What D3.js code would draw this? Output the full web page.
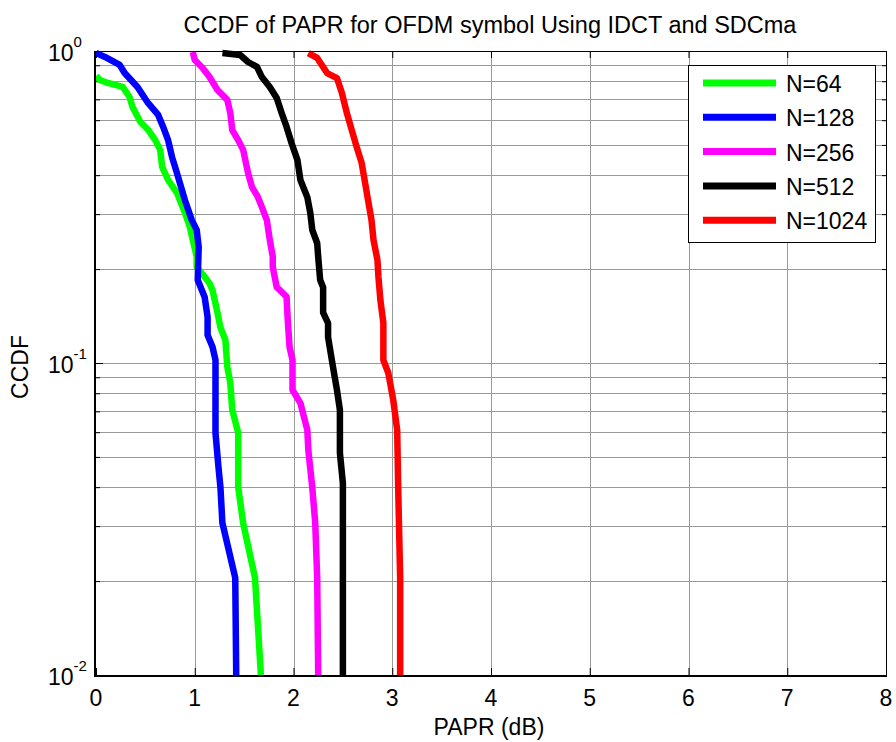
<!DOCTYPE html>
<html>
<head>
<meta charset="utf-8">
<script src="https://cdn.jsdelivr.net/npm/d3@7"></script>
<style>
  html, body { margin: 0; padding: 0; background: #fff; }
  svg { display: block; font-family: "Liberation Sans", Arial, Helvetica, sans-serif; }
</style>
</head>
<body>
<svg id="chart" width="896" height="742"></svg>
<script>
// ---------------- data ----------------
const seriesNames = ["N=64", "N=128", "N=256", "N=512", "N=1024"];
const seriesColors = ["#00ff00", "#0000ff", "#ff00ff", "#000000", "#ff0000"];

const papr64 = [0, 0.04, 0.12, 0.27, 0.34, 0.37, 0.45, 0.53, 0.60, 0.65, 0.67, 0.73, 0.82, 0.90, 0.95, 0.98, 1.02, 1.02, 1.10, 1.15, 1.18, 1.23, 1.26, 1.31, 1.33, 1.36, 1.38, 1.44, 1.44, 1.49, 1.61, 1.67];
const ccdf64 = [0.832, 0.807, 0.790, 0.767, 0.712, 0.661, 0.592, 0.558, 0.518, 0.482, 0.425, 0.386, 0.351, 0.303, 0.273, 0.248, 0.219, 0.203, 0.189, 0.180, 0.171, 0.145, 0.130, 0.1185, 0.0971, 0.0863, 0.0707, 0.0597, 0.0400, 0.0307, 0.0205, 0.01];

const papr128 = [0, 0.09, 0.24, 0.29, 0.42, 0.52, 0.63, 0.68, 0.73, 0.77, 0.82, 0.90, 0.97, 1.02, 1.04, 1.03, 1.10, 1.13, 1.13, 1.18, 1.21, 1.21, 1.24, 1.26, 1.28, 1.41, 1.42];
const ccdf128 = [0.985, 0.957, 0.902, 0.850, 0.767, 0.686, 0.624, 0.571, 0.518, 0.457, 0.406, 0.333, 0.287, 0.267, 0.235, 0.1845, 0.1627, 0.1404, 0.1229, 0.1125, 0.1022, 0.0597, 0.0464, 0.0400, 0.0307, 0.0205, 0.01];

const papr256 = [0.98, 1.00, 1.08, 1.15, 1.23, 1.33, 1.36, 1.38, 1.44, 1.49, 1.54, 1.58, 1.64, 1.68, 1.73, 1.76, 1.79, 1.79, 1.83, 1.93, 1.94, 1.96, 1.99, 1.99, 2.07, 2.14, 2.15, 2.19, 2.22, 2.24, 2.25];
const ccdf256 = [0.993, 0.936, 0.882, 0.825, 0.750, 0.697, 0.633, 0.558, 0.518, 0.482, 0.406, 0.366, 0.340, 0.316, 0.287, 0.248, 0.219, 0.203, 0.175, 0.163, 0.1404, 0.1125, 0.1022, 0.0819, 0.0744, 0.0610, 0.0526, 0.0400, 0.0307, 0.0205, 0.01];

const papr512 = [1.28, 1.46, 1.54, 1.63, 1.68, 1.76, 1.83, 1.88, 1.93, 1.98, 2.04, 2.07, 2.14, 2.17, 2.19, 2.24, 2.25, 2.27, 2.30, 2.30, 2.35, 2.35, 2.40, 2.44, 2.47, 2.47, 2.50, 2.50];
const ccdf512 = [0.985, 0.971, 0.922, 0.889, 0.825, 0.767, 0.707, 0.633, 0.571, 0.507, 0.447, 0.386, 0.340, 0.303, 0.267, 0.242, 0.219, 0.1845, 0.175, 0.145, 0.1343, 0.1212, 0.0971, 0.0819, 0.0707, 0.0515, 0.0412, 0.01];

const papr1024 = [2.15, 2.24, 2.30, 2.34, 2.44, 2.49, 2.54, 2.59, 2.64, 2.69, 2.72, 2.75, 2.79, 2.81, 2.85, 2.86, 2.88, 2.91, 2.91, 2.96, 3.01, 3.05, 3.06, 3.08, 3.08];
const ccdf1024 = [0.985, 0.950, 0.889, 0.850, 0.819, 0.733, 0.633, 0.558, 0.492, 0.438, 0.386, 0.340, 0.287, 0.248, 0.214, 0.189, 0.159, 0.1343, 0.1022, 0.0929, 0.0761, 0.0610, 0.0400, 0.0205, 0.01];

const xTicks = [0, 1, 2, 3, 4, 5, 6, 7, 8];
const yTicks = [1, 0.1, 0.01];
const yTickExponents = ["0", "-1", "-2"];

const titleText = "CCDF of PAPR for OFDM symbol Using IDCT and SDCma";
const xLabelText = "PAPR (dB)";
const yLabelText = "CCDF";

// ---------------- layout ----------------
const svg = d3.select("#chart");
const pL = 96, pR = 886, pT = 51, pB = 675;
const W = pR - pL, H = pB - pT;
const FONT = 23;

const x = d3.scaleLinear().domain([0, 8]).range([pL, pR]);
const y = d3.scaleLog().domain([0.01, 1]).range([pB, pT]);

const seriesX = [papr64, papr128, papr256, papr512, papr1024];
const seriesY = [ccdf64, ccdf128, ccdf256, ccdf512, ccdf1024];
const series = seriesNames.map((name, i) => ({
  name, color: seriesColors[i],
  pts: seriesX[i].map((v, j) => [v, seriesY[i][j]])
}));

// minor log values
const minorVals = [];
[0.01, 0.1].forEach(d => { for (let k = 1; k <= 9; k++) minorVals.push(+(d * k).toPrecision(3)); });
minorVals.push(1);

// grid
const grid = svg.append("g").attr("class", "grid");
grid.selectAll("line.gx").data(xTicks.slice(1, -1)).join("line")
  .attr("x1", d => Math.round(x(d)) + 0.5).attr("x2", d => Math.round(x(d)) + 0.5)
  .attr("y1", pT).attr("y2", pB)
  .attr("stroke", "#9a9a9a").attr("stroke-width", 1);
grid.selectAll("line.gy").data(minorVals.filter(v => v > 0.01 && v < 1)).join("line")
  .attr("x1", pL).attr("x2", pR)
  .attr("y1", d => Math.round(y(d)) + 0.5).attr("y2", d => Math.round(y(d)) + 0.5)
  .attr("stroke", "#9a9a9a").attr("stroke-width", 1);

// ticks (inside) via d3 axes
const xAxisB = d3.axisBottom(x).tickValues(xTicks).tickSize(-7).tickFormat("");
const xAxisT = d3.axisTop(x).tickValues(xTicks).tickSize(-7).tickFormat("");
svg.append("g").attr("transform", `translate(0,${pB})`).call(xAxisB)
  .call(g => { g.select(".domain").remove(); g.selectAll("line").attr("stroke", "#000"); });
svg.append("g").attr("transform", `translate(0,${pT})`).call(xAxisT)
  .call(g => { g.select(".domain").remove(); g.selectAll("line").attr("stroke", "#000"); });

const yAxisL = d3.axisLeft(y).tickValues(minorVals).tickSize(-4).tickFormat("");
const yAxisR = d3.axisRight(y).tickValues(minorVals).tickSize(-4).tickFormat("");
svg.append("g").attr("transform", `translate(${pL},0)`).call(yAxisL)
  .call(g => { g.select(".domain").remove(); g.selectAll("line").attr("stroke", "#000")
    .attr("x2", d => yTicks.includes(d) ? 7 : 4); });
svg.append("g").attr("transform", `translate(${pR},0)`).call(yAxisR)
  .call(g => { g.select(".domain").remove(); g.selectAll("line").attr("stroke", "#000")
    .attr("x2", d => yTicks.includes(d) ? -7 : -4); });

// lines
const line = d3.line().x(d => x(d[0])).y(d => y(d[1]));
svg.append("defs").append("clipPath").attr("id", "clip")
  .append("rect").attr("x", pL).attr("y", pT - 3).attr("width", W).attr("height", H + 3);
svg.append("g").attr("clip-path", "url(#clip)")
  .selectAll("path").data(series).join("path")
  .attr("d", d => line(d.pts))
  .attr("fill", "none").attr("stroke", d => d.color)
  .attr("stroke-width", 6.5).attr("stroke-linejoin", "round").attr("stroke-linecap", "butt");

// frame
svg.append("line").attr("x1", pL).attr("x2", pR).attr("y1", pT + 0.5).attr("y2", pT + 0.5).attr("stroke", "#000");
svg.append("line").attr("x1", pR + 0.5).attr("x2", pR + 0.5).attr("y1", pT).attr("y2", pB).attr("stroke", "#000");
svg.append("line").attr("x1", pL - 1).attr("x2", pR + 1).attr("y1", pB + 1).attr("y2", pB + 1).attr("stroke", "#000").attr("stroke-width", 2);
svg.append("line").attr("x1", pL - 1).attr("x2", pL - 1).attr("y1", pT).attr("y2", pB + 2).attr("stroke", "#000").attr("stroke-width", 2);

// tick labels
svg.append("g").selectAll("text").data(xTicks).join("text")
  .attr("x", d => x(d)).attr("y", pB + 31)
  .attr("text-anchor", "middle").attr("font-size", FONT).attr("fill", "#000")
  .text(d => d);

const yl = svg.append("g").selectAll("text").data(yTicks).join("text")
  .attr("x", 48).attr("y", d => y(d) + 10)
  .attr("font-size", FONT).attr("fill", "#000");
yl.append("tspan").text("10");
yl.append("tspan").attr("dy", -14).attr("font-size", 15).text((d, i) => yTickExponents[i]);

// titles
svg.append("text").attr("x", 490).attr("y", 33).attr("text-anchor", "middle")
  .attr("font-size", FONT + 0.5).attr("fill", "#000").text(titleText);
svg.append("text").attr("x", 489).attr("y", 735).attr("text-anchor", "middle")
  .attr("font-size", FONT).attr("fill", "#000").text(xLabelText);
svg.append("text").attr("transform", "translate(28,367) rotate(-90)").attr("text-anchor", "middle")
  .attr("font-size", FONT).attr("fill", "#000").text(yLabelText);

// legend
const lg = svg.append("g");
lg.append("rect").attr("x", 688.5).attr("y", 65.5).attr("width", 187).attr("height", 177)
  .attr("fill", "#fff").attr("stroke", "#000");
const items = lg.selectAll("g.item").data(series).join("g")
  .attr("transform", (d, i) => `translate(0,${83 + i * 34.3})`);
items.append("line").attr("x1", 703).attr("x2", 776).attr("y1", 0).attr("y2", 0)
  .attr("stroke", d => d.color).attr("stroke-width", 7);
items.append("text").attr("x", 786).attr("y", 9).attr("font-size", FONT).attr("fill", "#000")
  .text(d => d.name);
</script>
</body>
</html>
